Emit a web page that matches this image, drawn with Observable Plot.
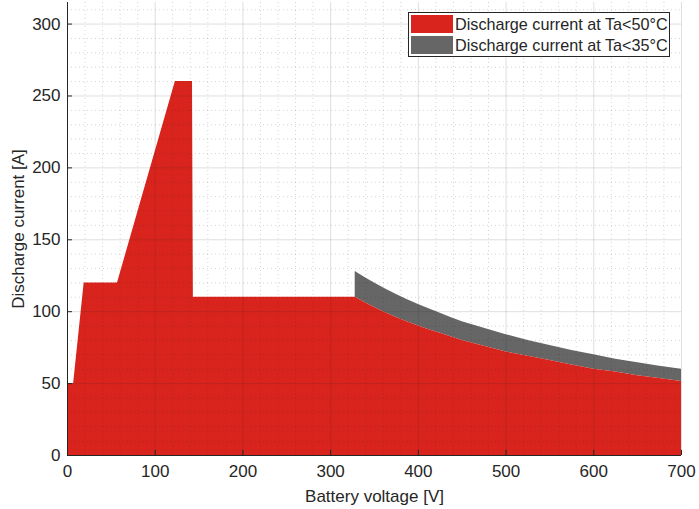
<!DOCTYPE html>
<html>
<head>
<meta charset="utf-8">
<script src="https://cdn.jsdelivr.net/npm/d3@7"></script>
<script src="https://cdn.jsdelivr.net/npm/@observablehq/plot@0.6"></script>
<style>
  body { margin: 0; background: #fff; font-family: "Liberation Sans", Arial, sans-serif; }
  #wrap { position: relative; width: 699px; height: 509px; }
  #legend { position: absolute; left: 408px; top: 12px; width: 260px; height: 43px;
    border: 1px solid #262626; background: #fff; font-size: 16.2px; color: #262626; }
  .row { position: absolute; left: 2px; height: 18px; display: flex; align-items: center; }
  .sw { width: 42px; height: 18px; margin-right: 2px; }
</style>
</head>
<body>
<div id="wrap">
  <div id="chart"></div>
  <div id="legend">
    <div class="row" style="top:2px"><div class="sw" style="background:#d8241c"></div><span>Discharge current at Ta&lt;50°C</span></div>
    <div class="row" style="top:23px"><div class="sw" style="background:#666666"></div><span>Discharge current at Ta&lt;35°C</span></div>
  </div>
</div>
<script>
// Red series (Ta<50°C): low-voltage part
const redVoltage = [0, 1, 7, 19, 57, 123, 142.5, 143.5, 328];
const redCurrent = [0, 50, 50, 120, 120, 260, 260, 110, 110];
// High-voltage part (shared voltage grid for both series)
const curveVoltage = [328, 340, 350, 362, 375, 387, 400, 412, 425, 437, 450, 475, 500, 525, 550, 575, 600, 625, 650, 675, 700];
const curveRed     = [110, 106, 103, 99.5, 96, 93, 90, 87.5, 85, 82.5, 80, 76, 72, 69, 66, 63, 60, 58, 55.5, 53.5, 51.5];
const curveGray    = [128, 123.5, 120, 116, 112, 108.5, 105, 102, 99, 96, 93, 88.5, 84, 80, 76.5, 73, 70, 67, 64.5, 62, 60];
const xTicks = [0, 100, 200, 300, 400, 500, 600, 700];
const yTicks = [0, 50, 100, 150, 200, 250, 300];

const redData = redVoltage.map((v, i) => ({v, c: redCurrent[i]}))
  .concat(curveVoltage.slice(1).map((v, i) => ({v, c: curveRed[i + 1]})));
const grayData = curveVoltage.map((v, i) => ({v, lo: curveRed[i], hi: curveGray[i]}));

const xMinor = d3.range(0, 701, 20).filter(d => d % 100 !== 0);
const yMinor = d3.range(0, 316, 10).filter(d => d % 50 !== 0);

const plot = Plot.plot({
  width: 699, height: 509,
  marginLeft: 67, marginRight: 18, marginTop: 2, marginBottom: 54,
  style: {fontFamily: "'Liberation Sans', Arial, sans-serif", fontSize: "17px", color: "#262626"},
  x: {domain: [0, 700], ticks: xTicks},
  y: {domain: [0, 315], ticks: yTicks},
  marks: [
    Plot.areaY(grayData, {x: "v", y1: "lo", y2: "hi", fill: "#666666"}),
    Plot.areaY(redData, {x: "v", y: "c", fill: "#d8241c"}),
    // minor grid (dotted)
    Plot.ruleX(xMinor, {stroke: "#262626", strokeOpacity: 0.2, strokeDasharray: "1,3"}),
    Plot.ruleY(yMinor, {stroke: "#262626", strokeOpacity: 0.2, strokeDasharray: "1,3"}),
    // major grid
    Plot.ruleX(xTicks.slice(1), {stroke: "#262626", strokeOpacity: 0.15}),
    Plot.ruleY(yTicks.slice(1), {stroke: "#262626", strokeOpacity: 0.15}),
    // inner ticks
    Plot.ruleX(xTicks, {y1: 0, y2: 3.6, stroke: "#262626"}),
    Plot.ruleY(yTicks, {x1: 0, x2: 5.7, stroke: "#262626"}),
    Plot.axisX({ticks: xTicks, tickSize: 0, tickPadding: 9, fontSize: 17, label: "Battery voltage [V]",
      labelAnchor: "center", labelArrow: "none", labelOffset: 46}),
    Plot.axisY({ticks: yTicks, tickSize: 0, tickPadding: 7, fontSize: 17, label: "Discharge current [A]",
      labelAnchor: "center", labelArrow: "none", labelOffset: 56}),
    Plot.ruleX([0], {stroke: "#262626"}),
    Plot.ruleY([0], {stroke: "#262626"})
  ]
});
document.getElementById("chart").appendChild(plot);
</script>
</body>
</html>
